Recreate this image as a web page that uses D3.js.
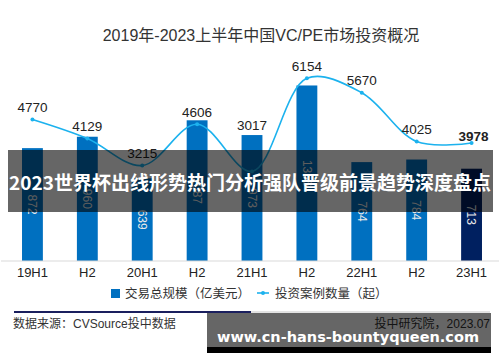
<!DOCTYPE html>
<html>
<head>
<meta charset="utf-8">
<script src="https://cdn.jsdelivr.net/npm/d3@7"></script>
<style>
  html, body { margin: 0; padding: 0; background: #fff; }
  svg { display: block; font-family: "Liberation Sans", "Noto Sans CJK SC", sans-serif; }
</style>
</head>
<body>
<svg id="chart" width="500" height="362"></svg>
<script>
// 数据
const categories = ["19H1", "H2", "20H1", "H2", "21H1", "H2", "22H1", "H2", "23H1"];
const dealValue = [872, 960, 639, 1087, 973, 1356, 764, 784, 713];   // 交易总规模（亿美元）
const dealCount = [4770, 4129, 3215, 4606, 3017, 6154, 5670, 4025, 3978]; // 投资案例数量（起）
const legendNames = ["交易总规模（亿美元）", "投资案例数量（起）"];

const svg = d3.select("#chart");
const barColor = "#0070c0", lastBarColor = "#002060", lineColor = "#1cb2ee";
const last = dealCount.length - 1;

const x = d3.scaleBand().domain(d3.range(categories.length)).range([5, 499])
    .paddingInner(0.62).paddingOuter(0.31);
const yBar = d3.scaleLinear().domain([0, 1800]).range([261, 28]);
const yLine = d3.scaleLinear().domain([0, 7850]).range([261, 28]);
const cx = i => x(i) + x.bandwidth() / 2;

// 标题
svg.append("text").attr("x", 261).attr("y", 41).attr("text-anchor", "middle")
    .attr("font-size", 16).attr("fill", "#333")
    .text("2019年-2023上半年中国VC/PE市场投资概况");

// 柱子
svg.append("g").selectAll("rect").data(dealValue).join("rect")
    .attr("x", (d, i) => x(i)).attr("width", x.bandwidth())
    .attr("y", d => yBar(d)).attr("height", d => yBar(0) - yBar(d))
    .attr("fill", (d, i) => i === dealValue.length - 1 ? lastBarColor : barColor);

svg.append("g").selectAll("text").data(dealValue).join("text")
    .attr("transform", (d, i) => `translate(${cx(i)},${(yBar(d) + yBar(0)) / 2}) rotate(90)`)
    .attr("text-anchor", "middle").attr("dy", "0.35em")
    .attr("font-size", 12).attr("fill", "#e8e8e8")
    .text(d => d);

// x轴
const axis = svg.append("g").attr("transform", "translate(0,261)")
    .call(d3.axisBottom(x).tickSize(0).tickPadding(7).tickFormat(i => categories[i]));
axis.select(".domain").attr("stroke", "#d9d9d9").attr("d", "M1,0H499");
axis.selectAll("text").attr("font-size", 13).attr("fill", "#222")
    .attr("font-family", "Liberation Sans, sans-serif");

// 折线
const line = d3.line().x((d, i) => cx(i)).y(d => yLine(d)).curve(d3.curveCatmullRom.alpha(0.5));
svg.append("path").datum(dealCount).attr("d", line)
    .attr("fill", "none").attr("stroke", lineColor).attr("stroke-width", 1.6);
svg.append("g").selectAll("circle").data(dealCount).join("circle")
    .attr("cx", (d, i) => cx(i)).attr("cy", d => yLine(d)).attr("r", 2)
    .attr("fill", lineColor);

// 数据标签：21H1 的标签被挪到柱子上方，23H1 的标签贴近点
const labelY = (d, i) => {
    if (i === 4) return yBar(dealValue[i]) - 5;
    if (i === last) return yLine(d) - 1.5;
    return yLine(d) - 7.7;
};
svg.append("g").selectAll("text").data(dealCount).join("text")
    .attr("x", (d, i) => cx(i) + (i === last ? 2 : 0))
    .attr("y", labelY)
    .attr("text-anchor", "middle").attr("font-size", 13.5).attr("fill", "#222")
    .attr("font-weight", (d, i) => i === last ? "bold" : "normal")
    .text(d => d);

// 图例
const lg = svg.append("g").attr("font-size", 12.5).attr("fill", "#333");
lg.append("rect").attr("x", 111).attr("y", 289).attr("width", 9).attr("height", 9).attr("fill", barColor);
lg.append("text").attr("x", 125).attr("y", 297.5).text(legendNames[0]);
lg.append("line").attr("x1", 257).attr("x2", 269).attr("y1", 293).attr("y2", 293)
    .attr("stroke", lineColor).attr("stroke-width", 1.6);
lg.append("circle").attr("cx", 263).attr("cy", 293).attr("r", 2).attr("fill", lineColor);
lg.append("text").attr("x", 275).attr("y", 297.5).text(legendNames[1]);

// 分隔线和来源
svg.append("line").attr("x1", 14).attr("x2", 251).attr("y1", 312).attr("y2", 312)
    .attr("stroke", "#1a1f5e").attr("stroke-width", 2);
svg.append("line").attr("x1", 251).attr("x2", 490).attr("y1", 312).attr("y2", 312)
    .attr("stroke", "#e3e3e3").attr("stroke-width", 2);
svg.append("text").attr("x", 13).attr("y", 328).attr("font-size", 12).attr("fill", "#333")
    .text("数据来源：CVSource投中数据");
svg.append("text").attr("x", 490).attr("y", 328).attr("text-anchor", "end")
    .attr("font-size", 12).attr("fill", "#333").text("投中研究院，2023.07");

// 覆盖横幅
svg.append("rect").attr("x", 8).attr("y", 150).attr("width", 485).attr("height", 62)
    .attr("fill", "rgba(0,0,0,0.6)");
svg.append("text").attr("x", 250).attr("y", 190).attr("text-anchor", "middle")
    .attr("font-family", "Noto Sans CJK SC, sans-serif").attr("font-weight", "bold")
    .attr("font-size", 19).attr("fill", "#fff")
    .text("2023世界杯出线形势热门分析强队晋级前景趋势深度盘点");

svg.append("rect").attr("x", 207).attr("y", 313).attr("width", 284).attr("height", 34)
    .attr("fill", "rgba(0,0,0,0.6)");
svg.append("rect").attr("x", 207).attr("y", 347).attr("width", 284).attr("height", 6)
    .attr("fill", "#000");
svg.append("text").attr("x", 217).attr("y", 342).attr("font-family", "DejaVu Sans, sans-serif")
    .attr("font-weight", "bold").attr("font-size", 14.5).attr("fill", "#fff")
    .text("www.cn-hans-bountyqueen.com");
</script>
</body>
</html>
